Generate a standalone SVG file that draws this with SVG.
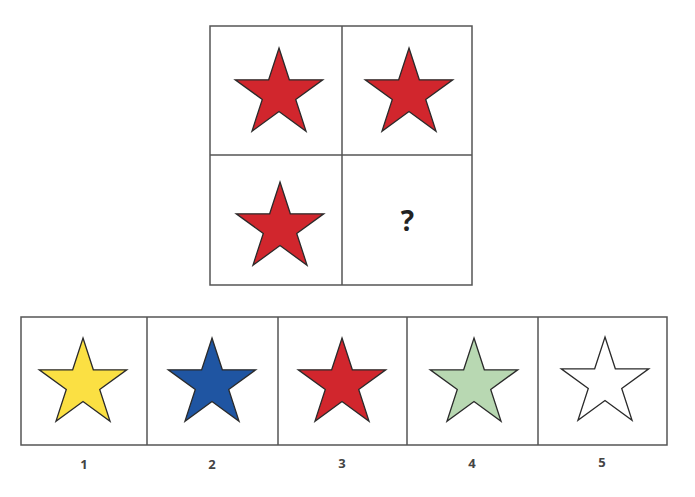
<svg xmlns="http://www.w3.org/2000/svg" xmlns:xlink="http://www.w3.org/1999/xlink" width="695" height="497" viewBox="0 0 695 497">
<style>
.cell{fill:#fff;stroke:#555;stroke-width:1.5}
.star{stroke:#2a2a2a;stroke-width:1.3;stroke-linejoin:miter}
.red{fill:#d1262d}
.lbl{font-family:"Open Sans","Liberation Sans",sans-serif;font-size:13px;font-weight:bold;fill:#444;text-anchor:middle}
</style>
<defs>
<path id="star" d="M0,-46 L10.33,-14.21 L43.75,-14.21 L16.71,5.43 L27.04,37.21 L0,17.57 L-27.04,37.21 L-16.71,5.43 L-43.75,-14.21 L-10.33,-14.21 Z"/>
</defs>
<rect width="695" height="497" fill="#fff"/>
<g id="grid">
<rect class="cell" x="210" y="26" width="262" height="259"/>
<line x1="342" y1="26" x2="342" y2="285" stroke="#555" stroke-width="1.5"/>
<line x1="210" y1="155" x2="472" y2="155" stroke="#555" stroke-width="1.5"/>
</g>
<g id="q1"><use xlink:href="#star" class="star red" transform="translate(279,94)"/></g>
<g id="q2"><use xlink:href="#star" class="star red" transform="translate(409,94)"/></g>
<g id="q3"><use xlink:href="#star" class="star red" transform="translate(280,228)"/></g>
<g id="q4"><text x="407.5" y="231" font-family="Open Sans,Liberation Sans,sans-serif" font-size="28" font-weight="bold" fill="#222" text-anchor="middle">?</text></g>
<g id="options">
<rect class="cell" x="21" y="317" width="646" height="128"/>
<line x1="147" y1="317" x2="147" y2="445" stroke="#555" stroke-width="1.5"/>
<line x1="278" y1="317" x2="278" y2="445" stroke="#555" stroke-width="1.5"/>
<line x1="407" y1="317" x2="407" y2="445" stroke="#555" stroke-width="1.5"/>
<line x1="538" y1="317" x2="538" y2="445" stroke="#555" stroke-width="1.5"/>
</g>
<g id="opt1"><use xlink:href="#star" class="star" fill="#fbe043" transform="translate(83,384)"/><text class="lbl" x="84" y="469">1</text></g>
<g id="opt2"><use xlink:href="#star" class="star" fill="#1f55a2" transform="translate(212,384)"/><text class="lbl" x="212" y="469">2</text></g>
<g id="opt3"><use xlink:href="#star" class="star red" transform="translate(342,384)"/><text class="lbl" x="342" y="468">3</text></g>
<g id="opt4"><use xlink:href="#star" class="star" fill="#b8d8b2" transform="translate(474,384)"/><text class="lbl" x="472" y="468">4</text></g>
<g id="opt5"><use xlink:href="#star" class="star" fill="#fff" transform="translate(605,383)"/><text class="lbl" x="602" y="467">5</text></g>
</svg>
